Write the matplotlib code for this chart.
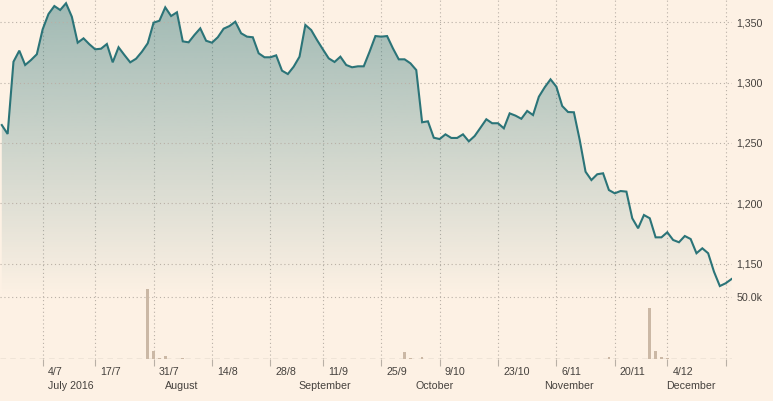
import numpy as np
import pandas as pd
import matplotlib
matplotlib.use("AGG")
import matplotlib.pyplot as plt

plt.rcParams["font.family"] = ["Liberation Sans", "DejaVu Sans"]

# gold price, US trading days 23 Jun - 20 Dec 2016
holidays = ["2016-07-04", "2016-09-05", "2016-11-24"]
dates = pd.bdate_range("2016-06-23", "2016-12-20", freq="C", holidays=holidays)

price = [
    1264.8, 1257.4, 1317.3, 1326.5, 1314.6, 1318.7, 1323.5, 1344.2, 1356.9, 1363.5,
    1360.2, 1365.8, 1354.6, 1333.1, 1336.7, 1331.8, 1327.6, 1328.1, 1332.0, 1316.8,
    1329.3, 1322.9, 1316.8, 1319.8, 1325.6, 1332.6, 1349.7, 1351.3, 1362.4, 1355.2,
    1358.3, 1334.2, 1333.4, 1339.5, 1345.0, 1334.7, 1333.1, 1337.6, 1344.7, 1346.9,
    1350.5, 1340.9, 1338.1, 1337.6, 1324.3, 1321.0, 1321.0, 1322.6, 1309.9, 1307.1,
    1313.2, 1321.5, 1347.8, 1343.6, 1335.3, 1327.6, 1320.1, 1317.1, 1321.5, 1314.6,
    1312.7, 1313.5, 1313.5, 1325.6, 1338.6, 1338.1, 1338.6, 1328.4, 1319.3, 1319.3,
    1316.0, 1310.4, 1267.1, 1267.9, 1254.3, 1253.2, 1257.1, 1254.1, 1254.1, 1257.1,
    1251.3, 1255.7, 1262.6, 1269.6, 1266.3, 1266.3, 1262.1, 1274.5, 1272.6, 1270.0,
    1276.5, 1273.1, 1288.3, 1296.1, 1302.7, 1296.6, 1280.6, 1275.6, 1275.4, 1252.4,
    1226.1, 1219.2, 1224.0, 1224.8, 1210.9, 1208.2, 1210.1, 1209.6, 1187.5, 1179.2,
    1190.2, 1187.5, 1171.7, 1171.7, 1175.9, 1169.5, 1167.6, 1172.8, 1170.3, 1158.5,
    1162.6, 1158.5, 1143.2, 1131.3, 1133.6, 1137.1,
]

vol_dates = ["2016-07-29", "2016-08-01", "2016-08-02", "2016-08-03", "2016-08-08",
             "2016-09-30", "2016-10-03", "2016-10-05", "2016-11-18", "2016-11-30",
             "2016-12-01", "2016-12-02", "2016-12-05"]
vol_values = [56700, 6700, 1000, 2700, 1000, 5900, 1000, 2000, 1600, 41600,
              6700, 1600, 1000]

price_ticks = [1150, 1200, 1250, 1300, 1350]
vol_ticks = [50000]
vol_tick_labels = ["50.0k"]
month_names = ["July 2016", "August", "September", "October", "November", "December"]

# colours
bg = "#fdf1e4"
line_col = "#2b7478"
bar_col = "#cbb8a5"
grid_col = "#b9b0a6"
text_col = "#45413d"

W, H = 773, 401
px_per_day = 5.838
right_px = 731.5
price_bot_px, base_px = 297.3, 359.3
price_per_px = 50 / 60.3

x = np.arange(len(dates))
xlim = (-1.8 / px_per_day, len(dates) - 1)
ylim_p = (1350 - (price_bot_px - 22.3) * price_per_px, 1350 + 22.3 * price_per_px)
ylim_v = (0, 50000 * base_px / 62.0)

fig = plt.figure(figsize=(W / 100, H / 100), dpi=100, facecolor=bg)
ax_v = fig.add_axes([0, 1 - base_px / H, right_px / W, base_px / H])
ax_p = fig.add_axes([0, 1 - price_bot_px / H, right_px / W, price_bot_px / H])
for ax in (ax_v, ax_p):
    ax.set_facecolor("none")
    for s in ax.spines.values():
        s.set_visible(False)

# volume bars
vol_x = dates.get_indexer(pd.to_datetime(vol_dates))
ax_v.bar(vol_x, vol_values, width=0.46, color=bar_col, zorder=2)
ax_v.axhline(0, color=grid_col, lw=1, ls=(0, (4, 3)), zorder=1)
ax_v.set_xlim(xlim)
ax_v.set_ylim(ylim_v)

# ticks every other week, labelled a day earlier like the source
week_starts = pd.date_range("2016-07-04", "2016-12-19", freq="14D")
tick_pos = dates.searchsorted(week_starts)
shown = dates - pd.Timedelta(days=1)
ax_v.set_xticks(tick_pos)
ax_v.set_xticklabels([])
ax_v.tick_params(axis="x", length=4.8, width=0.8, color=grid_col)
ax_v.grid(axis="x", color=grid_col, lw=0.8, ls=(0, (1, 2.5)))
for p in tick_pos[:-1]:
    d = shown[p]
    ax_v.annotate(f"{d.day}/{d.month}", (p, 0), xycoords=("data", "axes fraction"),
                  xytext=(3.7, -11.4), textcoords="offset points", ha="left",
                  va="baseline", fontsize=7.7, color=text_col, annotation_clip=False)
for m, name in zip(range(7, 13), month_names):
    p = int(np.argmax(shown.month == m))
    ax_v.annotate(name, (p, 0), xycoords=("data", "axes fraction"),
                  xytext=(3.7, -21.6), textcoords="offset points", ha="left",
                  va="baseline", fontsize=7.7, color=text_col, annotation_clip=False)

ax_v.yaxis.tick_right()
ax_v.set_yticks(vol_ticks, vol_tick_labels)
ax_v.tick_params(axis="y", length=0, pad=3.3, labelsize=7.7, labelcolor=text_col)
for lab in ax_v.get_yticklabels():
    lab.set_horizontalalignment("left")
ax_v.grid(axis="y", color=grid_col, lw=0.8, ls=(0, (1, 2.5)))

# price line with gradient fill
poly = ax_p.fill_between(x, price, ylim_p[0], color="none", lw=0)
grad = np.zeros((256, 1, 4))
grad[..., :3] = matplotlib.colors.to_rgb(line_col)
grad[..., 3] = np.linspace(0.45, 0.0, 256)[:, None]
im = ax_p.imshow(grad, extent=[xlim[0], xlim[1], ylim_p[0], ylim_p[1]],
                 aspect="auto", origin="upper", zorder=1, interpolation="bilinear")
im.set_clip_path(poly.get_paths()[0], transform=ax_p.transData)
ax_p.plot(x, price, color=line_col, lw=1.5, zorder=3, solid_joinstyle="miter")
ax_p.set_xlim(xlim)
ax_p.set_ylim(ylim_p)
ax_p.set_xticks([])
ax_p.yaxis.tick_right()
ax_p.set_yticks(price_ticks, [f"{v:,}" for v in price_ticks])
ax_p.tick_params(axis="y", length=0, pad=3.3, labelsize=7.7, labelcolor=text_col)
for lab in ax_p.get_yticklabels():
    lab.set_horizontalalignment("left")
ax_p.grid(axis="y", color=grid_col, lw=0.8, ls=(0, (1, 2.5)), zorder=0)

fig.savefig("out.png", dpi=100, facecolor=bg)
